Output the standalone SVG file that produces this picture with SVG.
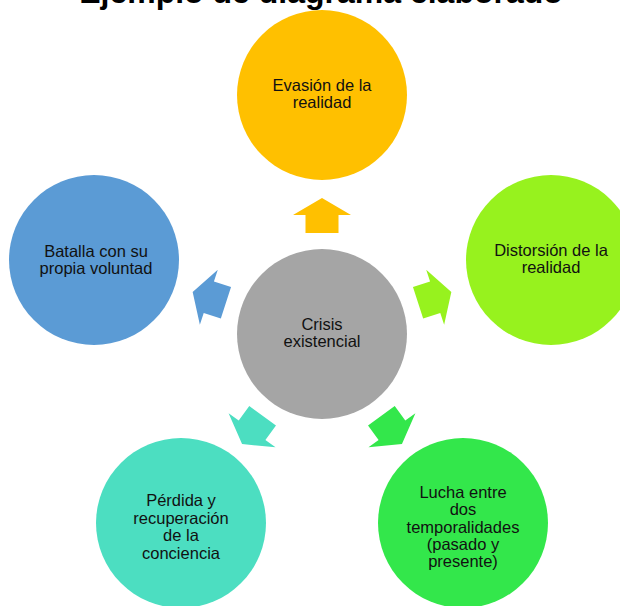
<svg xmlns="http://www.w3.org/2000/svg" width="620" height="606" viewBox="0 0 620 606">
<style>
.t{font-family:"Liberation Sans",Arial,sans-serif;font-size:16.5px;fill:#111;text-anchor:middle}
.title{font-family:"Liberation Sans",Arial,sans-serif;font-size:32px;font-weight:bold;fill:#000;text-anchor:middle}
</style>
<defs>
<path id="arr" d="M0,-136 L29,-119 L16.5,-119 L16.5,-101 L-16.5,-101 L-16.5,-119 L-29,-119 Z"/>
</defs>
<rect width="620" height="606" fill="#fff"/>
<text class="title" x="321" y="3">Ejemplo de diagrama elaborado</text>
<g id="connectors">
<use href="#arr" transform="translate(322,334)" fill="#FFC000"/>
<use href="#arr" transform="translate(322,334) rotate(72)" fill="#97F21E"/>
<use href="#arr" transform="translate(322,334) rotate(144)" fill="#33E74B"/>
<use href="#arr" transform="translate(322,334) rotate(216)" fill="#4CDEC1"/>
<use href="#arr" transform="translate(322,334) rotate(288)" fill="#5B9BD5"/>
</g>
<g id="center">
<circle cx="322" cy="334" r="85" fill="#A5A5A5"/>
<text class="t" x="322" y="330">Crisis</text>
<text class="t" x="322" y="347">existencial</text>
</g>
<g id="top">
<circle cx="322" cy="95" r="85" fill="#FFC000"/>
<text class="t" x="322" y="91">Evasión de la</text>
<text class="t" x="322" y="108">realidad</text>
</g>
<g id="right">
<circle cx="551" cy="260" r="85" fill="#97F21E"/>
<text class="t" x="551" y="256">Distorsión de la</text>
<text class="t" x="551" y="273">realidad</text>
</g>
<g id="left">
<circle cx="94" cy="260" r="85" fill="#5B9BD5"/>
<text class="t" x="96" y="257">Batalla con su</text>
<text class="t" x="96" y="274">propia voluntad</text>
</g>
<g id="bottomleft">
<circle cx="181" cy="523" r="85" fill="#4CDEC1"/>
<text class="t" x="181" y="506">Pérdida y</text>
<text class="t" x="181" y="523.5">recuperación</text>
<text class="t" x="181" y="541">de la</text>
<text class="t" x="181" y="558.5">conciencia</text>
</g>
<g id="bottomright">
<circle cx="463" cy="523" r="85" fill="#33E74B"/>
<text class="t" x="463" y="498">Lucha entre</text>
<text class="t" x="463" y="515">dos</text>
<text class="t" x="463" y="532.5">temporalidades</text>
<text class="t" x="463" y="550">(pasado y</text>
<text class="t" x="463" y="567">presente)</text>
</g>
</svg>
